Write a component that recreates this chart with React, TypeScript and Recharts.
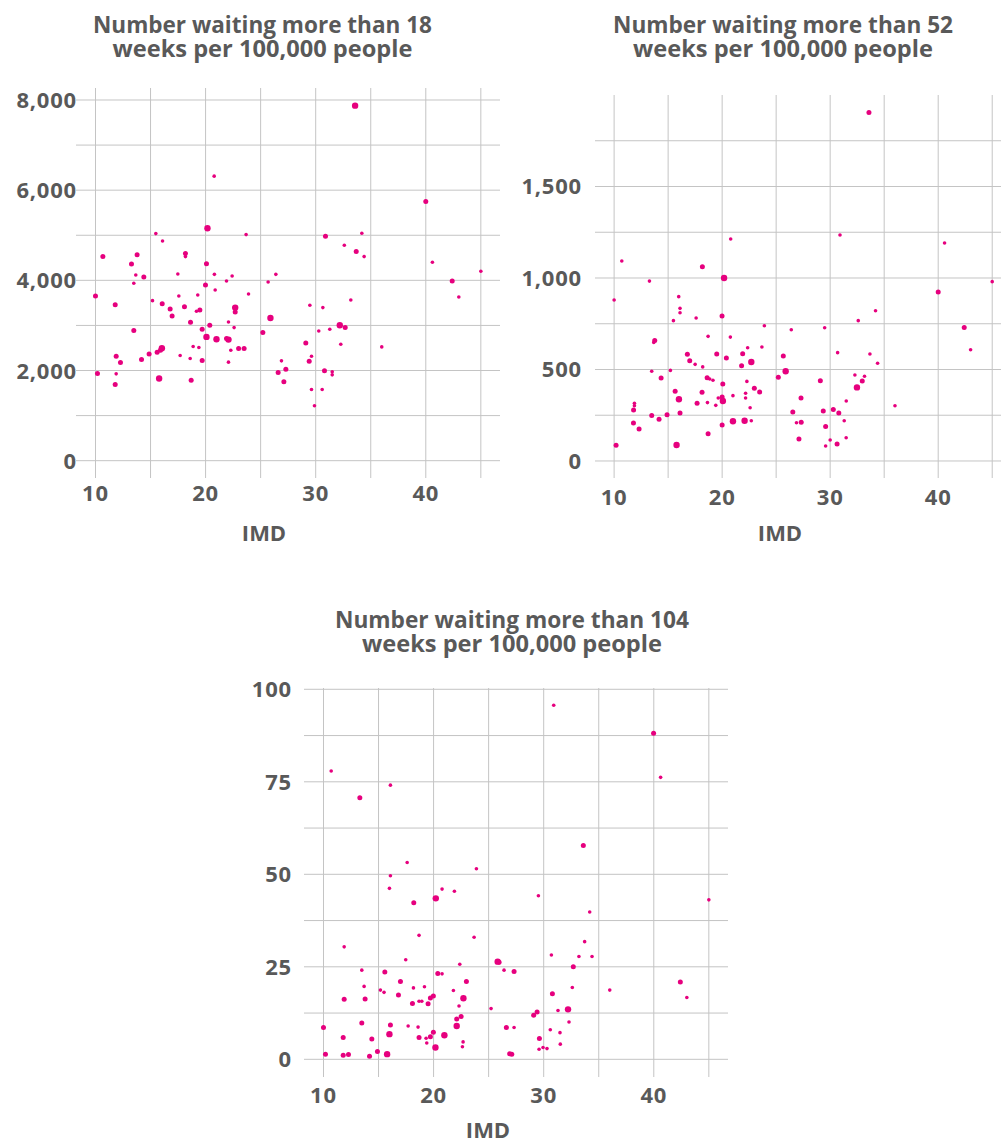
import React from "react";
import { ScatterChart, Scatter, XAxis, YAxis, CartesianGrid } from "recharts";

// [IMD, value, sizeClass]
const wait18Points: [number, number, number][] = [
  [33.58, 7874, 3], [20.78, 6311, 1], [40.0, 5750, 2], [15.48, 5037, 1], [20.17, 5156, 3],
  [16.09, 4874, 1], [23.68, 5015, 1], [30.89, 4978, 2], [32.6, 4778, 1], [34.19, 5044, 1],
  [33.68, 4637, 2], [34.4, 4526, 1], [10.67, 4526, 2], [13.78, 4570, 2], [18.17, 4593, 2],
  [18.17, 4526, 1], [13.27, 4363, 2], [20.08, 4370, 2], [40.6, 4400, 1], [45.0, 4200, 1],
  [13.66, 4119, 1], [14.39, 4074, 2], [17.48, 4141, 1], [20.8, 4133, 1], [22.41, 4096, 1],
  [26.38, 4133, 1], [13.48, 3934, 1], [19.99, 3897, 2], [21.9, 3985, 1], [25.68, 3963, 1],
  [42.4, 3985, 2], [10.0, 3653, 2], [43.0, 3631, 1], [11.79, 3461, 2], [15.18, 3550, 1],
  [17.57, 3653, 1], [19.29, 3675, 1], [20.87, 3786, 1], [23.9, 3697, 1], [16.06, 3483, 2],
  [16.78, 3365, 2], [16.96, 3210, 2], [18.08, 3417, 2], [19.48, 3343, 2], [19.17, 3314, 1],
  [22.69, 3395, 3], [22.69, 3299, 2], [25.89, 3166, 3], [29.47, 3446, 1], [30.65, 3395, 1],
  [33.19, 3565, 1], [13.48, 2886, 2], [18.63, 3070, 2], [22.08, 3077, 1], [22.59, 2952, 1],
  [19.69, 2915, 2], [20.38, 3004, 2], [20.08, 2745, 3], [20.99, 2694, 3], [21.9, 2708, 2],
  [22.08, 2686, 3], [25.2, 2841, 2], [30.28, 2878, 1], [31.28, 2915, 1], [32.19, 3004, 3],
  [32.68, 2952, 2], [29.1, 2613, 2], [32.28, 2583, 1], [36.0, 2524, 1], [18.87, 2531, 1],
  [19.39, 2509, 1], [16.03, 2494, 3], [15.9, 2450, 2], [15.6, 2406, 2], [14.87, 2369, 2],
  [14.18, 2244, 2], [11.88, 2317, 2], [12.27, 2177, 2], [17.69, 2332, 1], [18.6, 2266, 1],
  [19.69, 2221, 2], [23.0, 2487, 2], [23.5, 2487, 2], [22.29, 2450, 1], [22.08, 2185, 1],
  [26.89, 2214, 1], [29.62, 2317, 1], [29.41, 2207, 2], [10.18, 1934, 2], [11.88, 1926, 1],
  [11.79, 1690, 2], [15.78, 1823, 3], [18.69, 1786, 2], [26.59, 1956, 2], [27.29, 2030, 2],
  [27.11, 1749, 2], [30.8, 1993, 2], [31.5, 1970, 1], [31.5, 1904, 1], [29.62, 1579, 1],
  [30.59, 1579, 1], [29.89, 1218, 1],
];

const wait52Points: [number, number, number][] = [
  [33.59, 1905, 2], [30.91, 1235, 1], [20.79, 1213, 1], [40.59, 1191, 1], [10.71, 1093, 1],
  [18.17, 1061, 2], [20.18, 1000, 3], [13.27, 983, 1], [45.0, 980, 1], [10.0, 880, 1],
  [40.0, 923, 2], [15.98, 898, 1], [16.1, 834, 1], [16.1, 810, 1], [34.2, 821, 1],
  [15.49, 767, 1], [17.59, 781, 1], [19.99, 792, 2], [32.6, 767, 1], [23.91, 739, 1],
  [26.4, 717, 1], [29.49, 728, 1], [42.41, 730, 2], [18.7, 681, 1], [20.76, 677, 1],
  [13.76, 659, 2], [13.67, 648, 1], [43.0, 608, 1], [22.36, 619, 1], [23.68, 623, 1],
  [16.78, 583, 2], [19.5, 585, 2], [21.9, 586, 2], [30.69, 592, 1], [33.68, 585, 1],
  [17.0, 548, 2], [20.39, 563, 2], [25.66, 574, 2], [22.7, 541, 3], [17.5, 528, 1],
  [18.2, 514, 1], [21.8, 521, 2], [34.39, 534, 1], [15.21, 495, 1], [13.48, 490, 1],
  [25.88, 490, 3], [32.29, 470, 1], [33.18, 463, 1], [14.35, 453, 2], [25.2, 457, 2],
  [18.61, 455, 2], [18.85, 448, 1], [19.15, 441, 1], [29.09, 439, 2], [22.29, 435, 1],
  [32.97, 437, 2], [20.06, 421, 2], [32.48, 402, 3], [22.98, 397, 2], [15.65, 381, 2],
  [18.14, 375, 2], [23.47, 377, 2], [21.0, 357, 1], [22.17, 370, 1], [19.64, 344, 1],
  [20.0, 350, 2], [22.17, 344, 1], [16.0, 337, 3], [20.07, 328, 3], [27.3, 344, 2],
  [11.88, 315, 1], [11.88, 302, 1], [11.8, 279, 2], [17.68, 315, 2], [18.64, 319, 1],
  [19.41, 304, 1], [22.59, 291, 1], [31.49, 328, 1], [36.0, 302, 1], [30.29, 282, 2],
  [29.36, 273, 2], [30.8, 262, 2], [13.48, 248, 2], [14.9, 253, 2], [16.1, 262, 2],
  [26.54, 268, 2], [14.16, 228, 2], [11.79, 208, 2], [12.31, 175, 2], [21.0, 217, 3],
  [22.08, 220, 3], [22.7, 220, 1], [26.88, 209, 1], [27.32, 211, 2], [31.3, 220, 1],
  [20.0, 197, 2], [29.58, 189, 2], [18.7, 149, 2], [27.11, 120, 2], [31.48, 127, 1],
  [30.0, 115, 1], [30.64, 93, 2], [29.58, 82, 1], [10.18, 86, 2], [15.78, 87, 3],
];

const wait104Points: [number, number, number][] = [
  [30.91, 95.7, 1], [39.98, 88.1, 2], [10.7, 77.9, 1], [40.62, 76.2, 1], [13.3, 70.7, 2],
  [16.08, 74.1, 1], [33.6, 57.8, 2], [17.6, 53.2, 1], [23.89, 51.5, 1], [16.08, 49.6, 1],
  [15.99, 46.2, 1], [20.77, 46.0, 1], [21.89, 45.4, 1], [20.2, 43.5, 3], [18.2, 42.3, 2],
  [29.52, 44.2, 1], [45.0, 43.1, 1], [34.18, 39.8, 1], [18.68, 33.5, 1], [23.68, 33.0, 1],
  [33.72, 31.8, 1], [11.88, 30.4, 1], [30.7, 28.2, 1], [33.2, 27.8, 1], [34.39, 27.8, 1],
  [17.47, 26.9, 1], [25.82, 26.4, 3], [25.95, 26.2, 2], [22.38, 25.7, 1], [13.48, 24.1, 1],
  [26.4, 24.1, 1], [15.57, 23.6, 2], [27.31, 23.7, 2], [32.69, 25.0, 2], [20.38, 23.2, 2],
  [20.77, 23.1, 1], [16.99, 21.0, 2], [22.98, 21.0, 2], [42.41, 20.9, 2], [13.69, 19.7, 1],
  [18.17, 19.3, 1], [19.17, 19.6, 1], [32.6, 19.4, 1], [15.17, 18.7, 1], [15.5, 18.1, 1],
  [21.8, 18.6, 1], [36.0, 18.7, 1], [16.81, 17.4, 2], [30.79, 17.7, 2], [11.88, 16.2, 2],
  [13.78, 16.3, 2], [19.98, 17.1, 2], [19.71, 16.6, 2], [22.71, 16.5, 3], [43.0, 16.7, 1],
  [18.08, 15.1, 2], [18.68, 15.7, 1], [18.93, 15.7, 1], [19.5, 15.0, 2], [22.31, 14.4, 1],
  [25.22, 13.7, 1], [32.21, 13.5, 3], [31.3, 13.2, 1], [29.4, 12.8, 2], [29.09, 11.9, 2],
  [22.5, 11.6, 2], [22.1, 10.9, 2], [32.3, 10.1, 1], [13.48, 9.8, 2], [16.08, 9.3, 2],
  [17.69, 9.0, 1], [22.1, 9.0, 3], [10.0, 8.6, 2], [26.61, 8.6, 2], [27.31, 8.6, 1],
  [18.59, 8.7, 1], [30.6, 8.0, 1], [31.48, 7.2, 1], [19.98, 7.3, 2], [15.99, 6.8, 3],
  [20.98, 6.5, 3], [11.79, 5.9, 2], [18.68, 5.9, 2], [19.71, 6.1, 2], [19.32, 5.7, 1],
  [14.39, 5.5, 2], [29.61, 5.6, 2], [22.68, 4.7, 1], [19.38, 4.4, 1], [31.51, 4.1, 1],
  [22.62, 3.4, 1], [20.17, 3.2, 3], [29.94, 3.2, 1], [30.3, 2.9, 1], [29.58, 2.7, 1],
  [14.9, 2.1, 2], [10.18, 1.35, 2], [11.79, 1.1, 2], [12.27, 1.3, 2], [15.78, 1.4, 3],
  [14.18, 0.8, 2], [26.91, 1.5, 2], [27.1, 1.35, 2],
];

const imdTicks = [10, 20, 30, 40];
const imdGrid = [10, 15, 20, 25, 30, 35, 40, 45];
const y18Ticks = [0, 2000, 4000, 6000, 8000];
const y18Grid = [0, 1000, 2000, 3000, 4000, 5000, 6000, 7000, 8000];
const y52Ticks = [0, 500, 1000, 1500];
const y52Grid = [0, 250, 500, 750, 1000, 1250, 1500, 1750];
const y104Ticks = [0, 25, 50, 75, 100];
const y104Grid = [0, 12.5, 25, 37.5, 50, 62.5, 75, 87.5, 100];

const titles = [
  ["Number waiting more than 18", "weeks per 100,000 people"],
  ["Number waiting more than 52", "weeks per 100,000 people"],
  ["Number waiting more than 104", "weeks per 100,000 people"],
];

const TEXT = "#595959";
const DOT = "#e6007e";
const GRID = "#c4c4c4";
const FONT = "'Open Sans', 'Noto Sans', sans-serif";
const radius: Record<number, number> = { 1: 1.8, 2: 2.5, 3: 3.2 };

const toData = (pts: [number, number, number][]) => pts.map(([x, y, s]) => ({ x, y, s }));

const Dot = (props: any) => {
  const { cx, cy, payload } = props;
  if (cx == null || cy == null) return null;
  return <circle cx={cx} cy={cy} r={radius[payload.s]} fill={DOT} />;
};

const makeYTick = (dx: number) => (props: any) => {
  const { x, y, payload } = props;
  return (
    <text x={x + dx} y={y + 8} textAnchor="end" fill={TEXT} fontFamily={FONT} fontWeight={700} fontSize={22} letterSpacing={0.8}>
      {Number(payload.value).toLocaleString("en-US")}
    </text>
  );
};

const makeXTick = (dy: number) => (props: any) => {
  const { x, y, payload } = props;
  return (
    <text x={x} y={y + dy} textAnchor="middle" fill={TEXT} fontFamily={FONT} fontWeight={700} fontSize={22} letterSpacing={0.8}>
      {payload.value}
    </text>
  );
};

type PanelProps = {
  left: number;
  top: number;
  width: number;
  height: number;
  marginTop: number;
  yAxisWidth: number;
  xAxisHeight: number;
  yDomain: [number, number];
  yTicks: number[];
  yGrid: number[];
  points: [number, number, number][];
  yTickDx: number;
  xTickDy: number;
};

const Panel = (p: PanelProps) => (
  <div style={{ position: "absolute", left: p.left, top: p.top }}>
    <ScatterChart
      width={p.width}
      height={p.height}
      margin={{ top: p.marginTop, right: 0, bottom: 0, left: 0 }}
    >
      <CartesianGrid
        stroke={GRID}
        strokeWidth={1}
        horizontalValues={p.yGrid}
        verticalValues={imdGrid}
      />
      <XAxis
        type="number"
        dataKey="x"
        domain={[8.23, 46.74]}
        ticks={imdTicks}
        allowDataOverflow
        axisLine={false}
        tickLine={false}
        tickSize={0}
        tickMargin={0}
        height={p.xAxisHeight}
        tick={makeXTick(p.xTickDy)}
        interval={0}
      />
      <YAxis
        type="number"
        dataKey="y"
        domain={p.yDomain}
        ticks={p.yTicks}
        allowDataOverflow
        axisLine={false}
        tickLine={false}
        tickSize={0}
        tickMargin={0}
        width={p.yAxisWidth}
        tick={makeYTick(p.yTickDx)}
        interval={0}
      />
      <Scatter data={toData(p.points)} shape={Dot} isAnimationActive={false} />
    </ScatterChart>
  </div>
);

const Title = ({ cx, y, lines, widths }: { cx: number; y: number; lines: string[]; widths: number[] }) => (
  <>
    {lines.map((t, i) => (
      <text
        key={i}
        x={cx}
        y={y + i * 24}
        textAnchor="middle"
        fill={TEXT}
        fontFamily={FONT}
        fontWeight={700}
        fontSize={23}
        textLength={widths[i]}
        lengthAdjust="spacingAndGlyphs"
      >
        {t}
      </text>
    ))}
  </>
);

export default function App() {
  return (
    <div
      style={{
        position: "absolute",
        left: 0,
        top: 0,
        width: 1001,
        height: 1140,
        overflow: "hidden",
        background: "#ffffff",
      }}
    >
      <Panel
        left={0}
        top={0}
        width={500}
        height={520}
        marginTop={88}
        yAxisWidth={76}
        xAxisHeight={42}
        yDomain={[-384, 8266]}
        yTicks={y18Ticks}
        yGrid={y18Grid}
        points={wait18Points}
        yTickDx={1}
        xTickDy={23}
      />
      <Panel
        left={500}
        top={0}
        width={511}
        height={520}
        marginTop={95}
        yAxisWidth={95}
        xAxisHeight={42}
        yDomain={[-93, 2000]}
        yTicks={y52Ticks}
        yGrid={y52Grid}
        points={wait52Points}
        yTickDx={-13}
        xTickDy={27}
      />
      <Panel
        left={220}
        top={600}
        width={508}
        height={540}
        marginTop={88}
        yAxisWidth={84}
        xAxisHeight={63}
        yDomain={[-4.78, 100.35]}
        yTicks={y104Ticks}
        yGrid={y104Grid}
        points={wait104Points}
        yTickDx={-12}
        xTickDy={26}
      />
      <svg
        width={1001}
        height={1140}
        style={{ position: "absolute", left: 0, top: 0, pointerEvents: "none" }}
      >
        <Title cx={262.5} y={32.5} lines={titles[0]} widths={[339, 300]} />
        <Title cx={783} y={32.5} lines={titles[1]} widths={[340, 300]} />
        <Title cx={512} y={628} lines={titles[2]} widths={[354, 300]} />
        <text x={264} y={540.5} textAnchor="middle" fill={TEXT} fontFamily={FONT} fontWeight={700} fontSize={22}>IMD</text>
        <text x={780} y={540.5} textAnchor="middle" fill={TEXT} fontFamily={FONT} fontWeight={700} fontSize={22}>IMD</text>
        <text x={488} y={1138} textAnchor="middle" fill={TEXT} fontFamily={FONT} fontWeight={700} fontSize={22}>IMD</text>
      </svg>
    </div>
  );
}
